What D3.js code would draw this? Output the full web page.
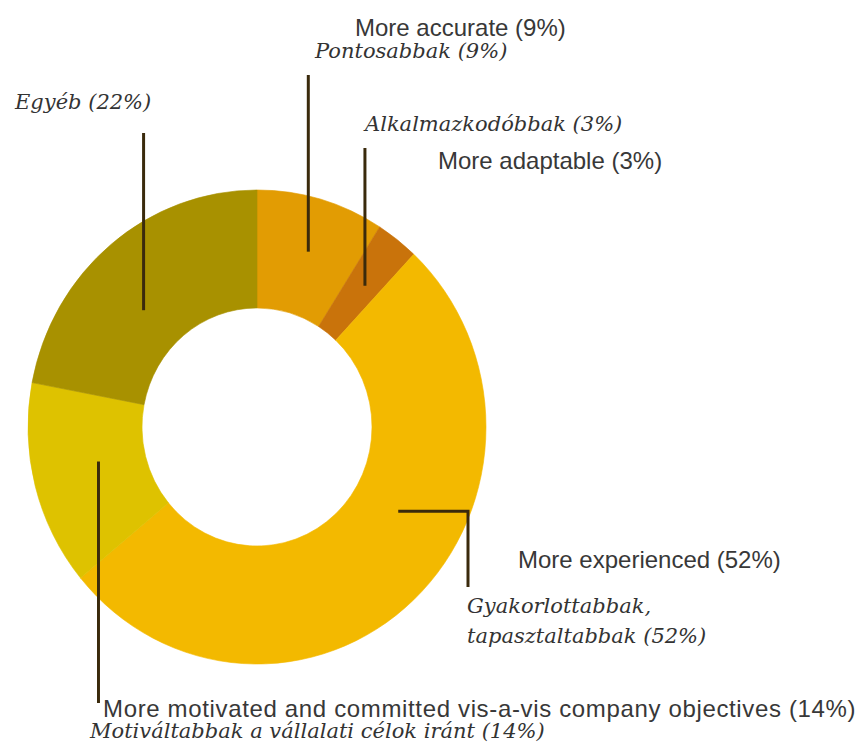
<!DOCTYPE html>
<html>
<head>
<meta charset="utf-8">
<script src="https://cdn.jsdelivr.net/npm/d3@7"></script>
<style>
  html, body { margin: 0; padding: 0; background: #ffffff; }
  svg { display: block; }
  .en { font-family: "Liberation Sans", Arial, sans-serif; font-size: 24px; fill: #383838; }
  .hu { font-family: "DejaVu Serif", serif; font-style: italic; font-size: 21px; fill: #333333; }
</style>
</head>
<body>
<svg id="chart" width="860" height="744"></svg>
<script>
// Survey shares, clockwise from 12 o'clock
const keys = ["accurate", "adaptable", "experienced", "motivated", "other"];
const shares = [9, 3, 52, 14, 22];
const colors = ["#E29C03", "#C9730B", "#F3B900", "#DEC200", "#A89100"];
const labelsEn = [
  "More accurate (9%)",
  "More adaptable (3%)",
  "More experienced (52%)",
  "More motivated and committed vis-a-vis company objectives (14%)",
  null
];
const labelsHu = [
  ["Pontosabbak (9%)"],
  ["Alkalmazkodóbbak (3%)"],
  ["Gyakorlottabbak,", "tapasztaltabbak (52%)"],
  ["Motiváltabbak a vállalati célok iránt (14%)"],
  ["Egyéb (22%)"]
];

// Layout
const cx = 257, cy = 427;
const outerR = 229, innerR = 115, squash = 1.035;

// Callout geometry per slice: where along the slice the leader starts,
// its radius, where the leader ends and where the text sits.
const callouts = [
  { t: 0.52, r: 177, end: { y: 75 },  en: { x: 355, y: 36 },  hu: { x: 315, y: 58 } },
  { t: 0.55, r: 174, end: { y: 148 }, en: { x: 438, y: 169 }, hu: { x: 365, y: 131 } },
  { t: 0.41, r: 163, elbow: { x: 468, y: 587 }, en: { x: 518, y: 568 }, hu: { x: 467, y: 613 } },
  { t: 0.55, r: 162, end: { y: 703 }, en: { x: 103, y: 717, spacing: 0.65 }, hu: { x: 90, y: 738 } },
  { t: 0.43, r: 160, end: { y: 133 }, en: null,               hu: { x: 15, y: 109 } }
];

const svg = d3.select("#chart");

const pie = d3.pie().sort(null).value(d => d)(shares);
const arc = d3.arc().innerRadius(innerR).outerRadius(outerR);

const ring = svg.append("g")
  .attr("transform", `translate(${cx},${cy}) scale(1,${squash})`);

ring.selectAll("path")
  .data(pie)
  .join("path")
  .attr("d", arc)
  .attr("fill", (d, i) => colors[i])
  .attr("stroke", (d, i) => colors[i])
  .attr("stroke-width", 0.6);

// Leader lines start inside each slice
function anchor(d, c) {
  const a = d.startAngle + (d.endAngle - d.startAngle) * c.t;
  return [cx + c.r * Math.sin(a), cy - c.r * Math.cos(a) * squash];
}

const leaders = svg.append("g")
  .attr("fill", "none")
  .attr("stroke", "#3A2A0C")
  .attr("stroke-width", 3);

pie.forEach((d, i) => {
  const c = callouts[i];
  const [x0, y0] = anchor(d, c);
  let pts;
  if (c.elbow) {
    pts = [[x0, y0], [c.elbow.x, y0], [c.elbow.x, c.elbow.y]];
  } else {
    pts = [[x0, y0], [x0, c.end.y]];
  }
  leaders.append("path").attr("d", d3.line()(pts));
});

// Labels: English (sans) and Hungarian (italic serif)
const text = svg.append("g");
pie.forEach((d, i) => {
  const c = callouts[i];
  if (labelsEn[i] && c.en) {
    text.append("text").attr("class", "en")
      .attr("x", c.en.x).attr("y", c.en.y)
      .attr("letter-spacing", c.en.spacing || 0)
      .text(labelsEn[i]);
  }
  const hu = text.append("text").attr("class", "hu")
    .attr("x", c.hu.x).attr("y", c.hu.y);
  labelsHu[i].forEach((line, k) => {
    hu.append("tspan")
      .attr("x", c.hu.x)
      .attr("dy", k === 0 ? 0 : 30)
      .text(line);
  });
});
</script>
</body>
</html>
